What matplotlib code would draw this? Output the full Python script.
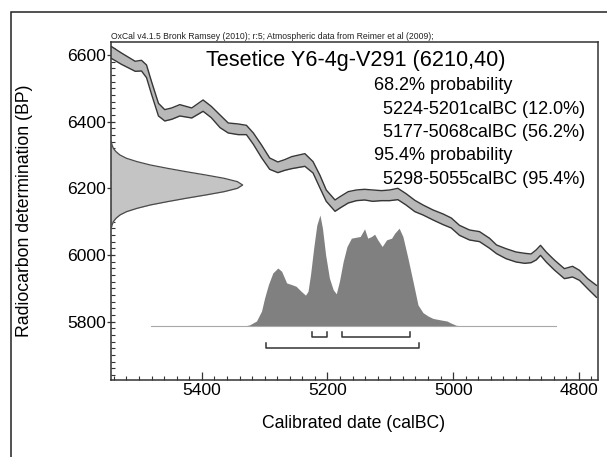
import matplotlib.pyplot as plt
import numpy as np
from matplotlib.patches import Rectangle
from matplotlib.ticker import MultipleLocator

plt.rcParams['font.family'] = ['Liberation Sans', 'DejaVu Sans']

# calibration curve (IntCal09 band)
curve_cal = [5546, 5528, 5506, 5496, 5488, 5480, 5469, 5459, 5448, 5435,
             5416, 5398, 5385, 5371, 5358, 5342, 5329, 5318, 5305, 5292,
             5279, 5268, 5257, 5236, 5223, 5212, 5202, 5188, 5180, 5167,
             5154, 5141, 5128, 5114, 5101, 5088, 5075, 5061, 5048, 5032,
             5016, 5003, 4990, 4974, 4958, 4942, 4931, 4916, 4900, 4886,
             4876, 4868, 4861, 4852, 4839, 4823, 4810, 4799, 4786, 4772]
curve_bp = [6610, 6589, 6566, 6568, 6551, 6501, 6436, 6419, 6424, 6434,
            6426, 6448, 6429, 6401, 6381, 6377, 6375, 6349, 6311, 6274,
            6263, 6270, 6277, 6285, 6263, 6220, 6178, 6148, 6158, 6173,
            6179, 6181, 6178, 6178, 6179, 6183, 6167, 6147, 6135, 6120,
            6107, 6096, 6074, 6060, 6055, 6035, 6017, 6004, 5994, 5990,
            5990, 6000, 6014, 5994, 5970, 5944, 5950, 5939, 5914, 5891]
curve_sig = [18, 17, 15, 16, 19, 19, 19, 17, 17, 17,
             15, 17, 17, 19, 15, 16, 14, 17, 19, 17,
             16, 16, 18, 19, 17, 19, 17, 17, 17, 17,
             16, 16, 17, 15, 16, 17, 17, 17, 15, 15,
             16, 15, 15, 15, 15, 15, 13, 15, 15, 15,
             13, 15, 15, 15, 15, 15, 16, 15, 15, 18]

# radiocarbon date and its profile
c14_date = 6210
c14_err = 40
gauss_bp = [6340, 6330, 6320, 6310, 6300, 6290, 6280, 6270, 6260, 6250,
            6240, 6230, 6220, 6210, 6200, 6190, 6180, 6170, 6160, 6150,
            6140, 6130, 6120, 6110, 6100, 6090, 6080]
gauss_rel = [0.004, 0.01, 0.02, 0.04, 0.07, 0.12, 0.20, 0.30, 0.43, 0.57,
             0.72, 0.86, 0.96, 1.0, 0.96, 0.86, 0.72, 0.57, 0.43, 0.30,
             0.20, 0.12, 0.07, 0.04, 0.02, 0.01, 0.004]

# calibrated probability distribution
post_cal = [5481, 5340, 5330, 5324, 5313, 5305, 5300, 5294, 5287, 5279,
            5273, 5265, 5257, 5250, 5242, 5235, 5231, 5227, 5222, 5217,
            5212, 5208, 5203, 5197, 5191, 5186, 5181, 5175, 5169, 5162,
            5154, 5148, 5141, 5136, 5130, 5125, 5120, 5113, 5106, 5098,
            5093, 5086, 5080, 5072, 5064, 5056, 5048, 5040, 5032, 5020,
            5010, 5003, 4995, 4985, 4950, 4836]
post_rel = [0, 0, 0.003, 0.01, 0.045, 0.134, 0.254, 0.373, 0.478, 0.522,
            0.493, 0.388, 0.373, 0.358, 0.313, 0.278, 0.313, 0.463, 0.701, 0.910,
            1.0, 0.881, 0.642, 0.433, 0.328, 0.290, 0.403, 0.582, 0.716, 0.791,
            0.800, 0.806, 0.875, 0.791, 0.806, 0.827, 0.776, 0.716, 0.776, 0.791,
            0.836, 0.881, 0.806, 0.612, 0.403, 0.19, 0.12, 0.09, 0.068, 0.055,
            0.045, 0.025, 0.006, 0.002, 0, 0]

# highest probability ranges
r68_from = [5224, 5177]
r68_to = [5201, 5068]
r68_pct = [12.0, 56.2]
r95_from = [5298]
r95_to = [5055]
r95_pct = [95.4]

W, H = 607, 457
fig = plt.figure(figsize=(W / 100, H / 100), dpi=100)
ax = fig.add_axes([110.7 / W, 1 - 380 / H, 487 / W, 337.7 / H])
ax.set_xlim(5545, 4770)
ax.set_ylim(5625, 6638)

cal = np.array(curve_cal)
bp = np.array(curve_bp)
sig = np.array(curve_sig)
ax.fill_between(cal, bp - sig, bp + sig, color='#b8b8b8', lw=0, zorder=2)
ax.plot(cal, bp + sig, color='#363636', lw=1.0, zorder=3)
ax.plot(cal, bp - sig, color='#363636', lw=1.0, zorder=3)

# date on the y axis
x0 = ax.get_xlim()[0]
gx = x0 - np.array(gauss_rel) * 210
ax.fill_betweenx(gauss_bp, x0, gx, color='#c4c4c4', lw=0, zorder=2)
ax.plot(gx, gauss_bp, color='#4a4a4a', lw=0.9, zorder=3)

# posterior
base = 5787
py = base + np.array(post_rel) * 333
ax.fill_between(post_cal, base, py, color='#808080', lw=0, zorder=2)
ax.plot(post_cal, np.full(len(post_cal), base), color='#a8a8a8', lw=0.8, zorder=2)


def bracket(a, b, y):
    ax.plot([a, a, b, b], [y + 15, y, y, y + 15], color='#333333', lw=1.1)


for a, b in zip(r68_from, r68_to):
    bracket(a, b, 5753)
for a, b in zip(r95_from, r95_to):
    bracket(a, b, 5722)

ax.xaxis.set_major_locator(MultipleLocator(200))
ax.xaxis.set_minor_locator(MultipleLocator(20))
ax.yaxis.set_major_locator(MultipleLocator(200))
ax.yaxis.set_minor_locator(MultipleLocator(20))
ax.tick_params(axis='x', which='major', direction='in', length=5.8, width=0.9,
               color='#333333', labelsize=12.6, pad=2)
ax.tick_params(axis='x', which='minor', direction='in', length=2.6, width=0.8,
               color='#333333')
ax.tick_params(axis='y', which='major', direction='inout', length=5.8, width=0.9,
               color='#333333', labelsize=12.6, pad=0.6)
ax.tick_params(axis='y', which='minor', direction='in', length=2.8, width=0.8,
               color='#333333')
for s in ax.spines.values():
    s.set_color('#333333')
    s.set_linewidth(1.1)

# outer frame
fig.add_artist(Rectangle((11 / W, -0.05), 1.2, 1.05 - 11.7 / H,
                         transform=fig.transFigure, fill=False,
                         ec='#222222', lw=1.1))

fig.text(110.7 / W, 1 - 36.7 / H,
         'OxCal v4.1.5 Bronk Ramsey (2010); r:5; Atmospheric data from Reimer et al (2009);',
         fontsize=6.25, va='center', ha='left', color='#222222')
fig.text(206 / W, 1 - 65.7 / H, 'Tesetice Y6-4g-V291 (%d,%d)' % (c14_date, c14_err),
         fontsize=15.6, va='baseline', ha='left')

lines = [(374, '68.2% probability')]
for a, b, p in zip(r68_from, r68_to, r68_pct):
    lines.append((383.3, '%d-%dcalBC (%.1f%%)' % (a, b, p)))
lines.append((374, '95.4% probability'))
for a, b, p in zip(r95_from, r95_to, r95_pct):
    lines.append((383.3, '%d-%dcalBC (%.1f%%)' % (a, b, p)))
for i, (x, t) in enumerate(lines):
    fig.text(x / W, 1 - (90 + 23.5 * i) / H, t, fontsize=13, va='baseline', ha='left')

fig.text(354 / W, 1 - 423 / H, 'Calibrated date (calBC)', fontsize=12.7,
         ha='center', va='center')
fig.text(25 / W, 1 - 211 / H, 'Radiocarbon determination (BP)', fontsize=12.7,
         ha='center', va='center', rotation=90)

fig.savefig('out.png', dpi=100)
